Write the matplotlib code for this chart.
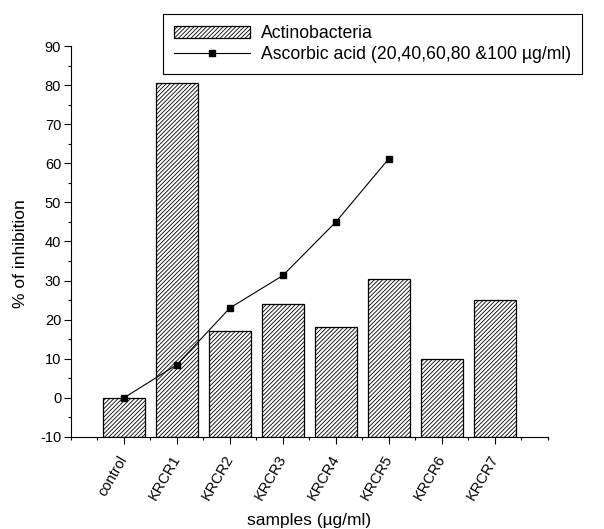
import matplotlib.pyplot as plt
from matplotlib.ticker import MultipleLocator

plt.rcParams['font.family'] = ['Liberation Sans', 'DejaVu Sans']
plt.rcParams['hatch.linewidth'] = 0.6
plt.rcParams['axes.unicode_minus'] = False

# Data
samples = ['control', 'KRCR1', 'KRCR2', 'KRCR3', 'KRCR4', 'KRCR5', 'KRCR6', 'KRCR7']
inhibition = [0, 80.5, 17, 24, 18, 30.5, 10, 25]
ascorbic_pos = [0, 1, 2, 3, 4, 5]
ascorbic = [0, 8.5, 23, 31.3, 45, 61.2]

fig = plt.figure(figsize=(6.04, 5.29), dpi=100)
ax = fig.add_axes([0.1175, 0.174, 0.7895, 0.739])

x = list(range(len(samples)))
base = -10
bars = ax.bar(x, [v - base for v in inhibition], width=0.8, bottom=base, color='white',
              edgecolor='black', hatch='////////', linewidth=0.9, label='Actinobacteria')
line, = ax.plot(ascorbic_pos, ascorbic, color='black', linewidth=0.8, marker='s',
                markersize=5, label='Ascorbic acid (20,40,60,80 &100 \u00b5g/ml)')

ax.set_xlim(-1, 8)
ax.set_ylim(-10, 90)
ax.set_xticks(x)
ax.set_xticklabels(samples, rotation=60, ha='right', va='center', rotation_mode='anchor')
ax.xaxis.set_minor_locator(MultipleLocator(0.5))
ax.yaxis.set_major_locator(MultipleLocator(10))
ax.yaxis.set_minor_locator(MultipleLocator(5))
ax.tick_params(axis='both', which='major', length=5, width=0.8, labelsize=10.5,
               direction='out', pad=2)
ax.tick_params(axis='x', which='major', pad=9)
ax.tick_params(axis='both', which='minor', length=2.5, width=0.8, direction='out')
ax.spines['top'].set_visible(False)
ax.spines['right'].set_visible(False)

ax.set_xlabel('samples (\u00b5g/ml)', fontsize=12.5, labelpad=7)
ax.set_ylabel('% of inhibition', fontsize=12.5)
ax.yaxis.set_label_coords(-0.09, 0.468)

leg = fig.legend([bars, line], [bars.get_label(), line.get_label()],
                 loc='upper left', bbox_to_anchor=(0.27, 0.974), borderaxespad=0,
                 fontsize=12.7, frameon=True, fancybox=False, edgecolor='black',
                 framealpha=1, borderpad=0.63, handlelength=4.3, handletextpad=0.6,
                 labelspacing=0.22)
leg.get_frame().set_linewidth(0.8)

fig.savefig('out.png', dpi=100)
